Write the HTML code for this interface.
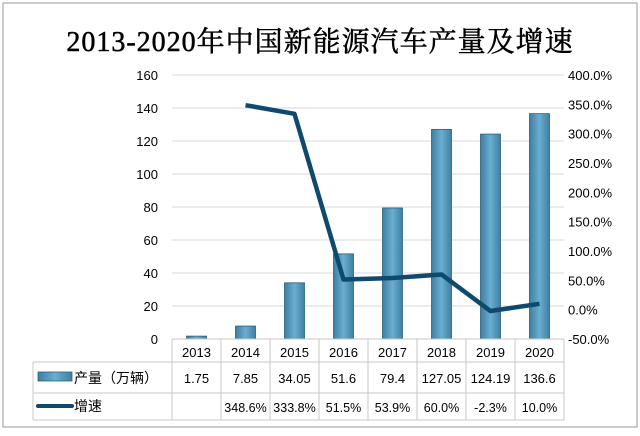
<!DOCTYPE html>
<html><head><meta charset="utf-8"><style>
body{margin:0;background:#fff}
svg text{font-family:"Liberation Sans","Noto Sans CJK SC",sans-serif}
</style></head><body>
<svg width="640" height="431" viewBox="0 0 640 431">
<defs><linearGradient id="bg" x1="0" x2="1"><stop offset="0" stop-color="#3e7ea3"/><stop offset="0.5" stop-color="#6aaed0"/><stop offset="1" stop-color="#3f7fa3"/></linearGradient></defs>
<rect x="3" y="3" width="634" height="424" fill="#fff" stroke="#999"/>
<text x="320" y="51" text-anchor="middle" font-size="28" stroke="#000" stroke-width="0.5" letter-spacing="1" style="font-family:'Liberation Serif','Noto Serif CJK SC',serif">2013-2020年中国新能源汽车产量及增速</text>
<g id="grid"></g><g id="bars"></g><g id="line"></g><g id="axes"></g><g id="table"></g>
</svg>
<script>
const years=["2013","2014","2015","2016","2017","2018","2019","2020"];
const output=[1.75,7.85,34.05,51.6,79.4,127.05,124.19,136.6];
const growth=[null,348.6,333.8,51.5,53.9,60.0,-2.3,10.0];
const leftTicks=[0,20,40,60,80,100,120,140,160];
const rightTicks=[-50,0,50,100,150,200,250,300,350,400];
const NS="http://www.w3.org/2000/svg";
const x0=172,cw=49,yb=339,yt=75;
const yL=v=>yb-(v/160)*(yb-yt);
const yR=v=>yb-((v+50)/450)*(yb-yt);
const xc=i=>x0+cw*i+cw/2;
function mk(t,a,p,txt){const e=document.createElementNS(NS,t);for(const k in a)e.setAttribute(k,a[k]);if(txt!==undefined)e.textContent=txt;document.getElementById(p).appendChild(e);return e;}
leftTicks.forEach(v=>{
 if(v>0){const g=mk("line",{x1:x0,x2:x0+cw*8,y1:yL(v),y2:yL(v),stroke:"#d9d9d9"},"grid");
 
 }
 const t=mk("text",{x:158,y:yL(v)+5,"text-anchor":"end","font-size":13},"axes",String(v));
 
 
});
rightTicks.forEach(v=>{
 const t=mk("text",{x:568,y:yR(v)+5,"font-size":13},"axes",v.toFixed(1)+"%");
 
 
});
output.forEach((v,i)=>{
 const r=mk("rect",{x:xc(i)-10,y:yL(v),width:20,height:yb-yL(v),fill:"url(#bg)",stroke:"#2f5f7a","stroke-width":0.8},"bars");
 
 
});
let d="";growth.forEach((v,i)=>{if(v===null)return;d+=(d?"L":"M")+xc(i)+","+yR(v);});
const pl=mk("path",{d:d,fill:"none",stroke:"#0f4a6e","stroke-width":4.5,"stroke-linejoin":"round"},"line");


[[x0,x0+cw*8,339],[33,x0+cw*8,362],[33,x0+cw*8,393],[33,x0+cw*8,420]].forEach(a=>{
 const l=mk("line",{x1:a[0],x2:a[1],y1:a[2],y2:a[2],stroke:"#c8c8c8"},"table");
 
 
});
for(let i=0;i<=8;i++){const l=mk("line",{x1:x0+cw*i,x2:x0+cw*i,y1:339,y2:420,stroke:"#c8c8c8"},"table");
 
 }
const l0=mk("line",{x1:33,x2:33,y1:362,y2:420,stroke:"#c8c8c8"},"table");


years.forEach((y,i)=>{
 const t=mk("text",{x:xc(i),y:357,"text-anchor":"middle","font-size":13},"table",y);
 
 
 const a=mk("text",{x:xc(i),y:383,"text-anchor":"middle","font-size":13},"table",String(output[i]));
 
 
 if(growth[i]!==null){const b=mk("text",{x:xc(i),y:412,"text-anchor":"middle","font-size":12.5},"table",growth[i].toFixed(1)+"%");
 
 }
});
const k1=mk("rect",{x:38,y:372,width:34,height:9,fill:"url(#bg)",stroke:"#2f5f7a","stroke-width":0.8},"table");


const t1=mk("text",{x:74,y:383,"font-size":14},"table","产量（万辆）");


const k2=mk("line",{x1:38,x2:72,y1:406,y2:406,stroke:"#0f4a6e","stroke-width":4,"stroke-linecap":"round"},"table");


const t2=mk("text",{x:74,y:411,"font-size":14},"table","增速");


</script>
</body></html>
